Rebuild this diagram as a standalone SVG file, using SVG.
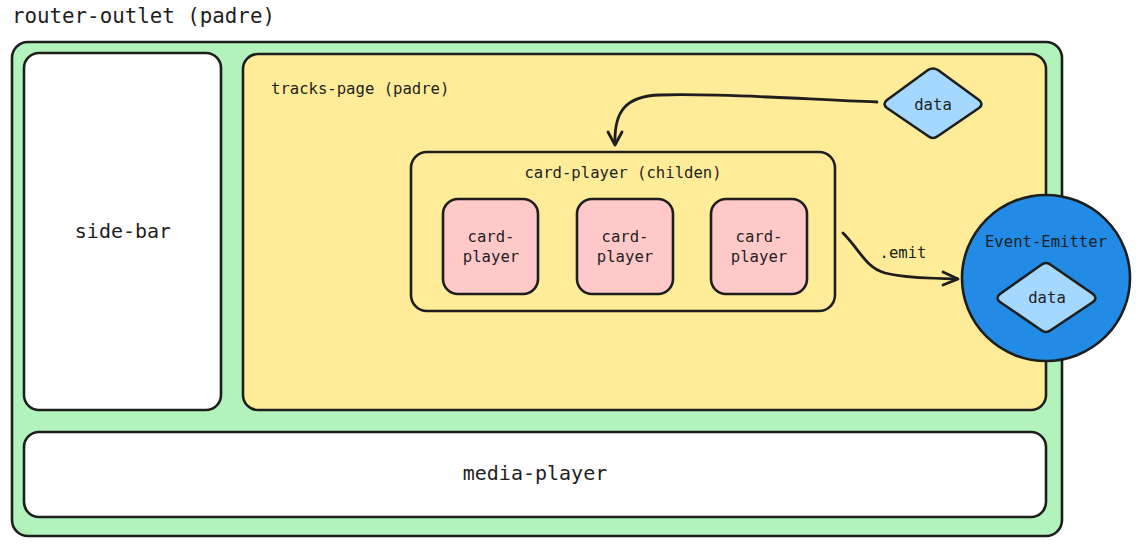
<svg xmlns="http://www.w3.org/2000/svg" width="1141" height="551" viewBox="0 0 1141 551">
  <style>
    .box { stroke: #1e1e1e; stroke-width: 2.6; stroke-linejoin: round; }
    .t { font-family: "DejaVu Sans Mono", "Liberation Mono", monospace; fill: #1e1e1e; text-anchor: middle; }
    .s16 { font-size: 15.6px; }
    .s20 { font-size: 20px; }
    .conn { fill: none; stroke: #1e1e1e; stroke-width: 2.8; stroke-linecap: round; stroke-linejoin: round; }
  </style>
  <rect width="1141" height="551" fill="#ffffff"/>

  <text class="t" x="12" y="23" style="font-size:20.8px;text-anchor:start">router-outlet (padre)</text>

  <g id="router-outlet">
    <rect class="box" x="12" y="42" width="1050" height="494" rx="16" fill="#b2f2bb"/>
  </g>

  <g id="side-bar">
    <rect class="box" x="24" y="53" width="197" height="357" rx="15" fill="#ffffff"/>
    <text class="t s20" x="123" y="238">side-bar</text>
  </g>

  <g id="tracks-page">
    <rect class="box" x="243" y="54" width="803" height="356" rx="15" fill="#ffec99"/>
    <text class="t s16" x="271" y="94" style="text-anchor:start">tracks-page (padre)</text>
  </g>

  <g id="media-player">
    <rect class="box" x="24" y="432" width="1022" height="85" rx="15" fill="#ffffff"/>
    <text class="t s20" x="535" y="480">media-player</text>
  </g>

  <g id="card-container">
    <rect class="box" x="411" y="152" width="424" height="159" rx="16" fill="#ffec99"/>
    <text class="t s16" x="623" y="178">card-player (childen)</text>
  </g>

  <g id="card-1">
    <rect class="box" x="443" y="199" width="95" height="95" rx="15" fill="#ffc9c9"/>
    <text class="t s16" x="491" y="242">card-</text>
    <text class="t s16" x="491" y="262">player</text>
  </g>
  <g id="card-2">
    <rect class="box" x="577" y="199" width="96" height="95" rx="15" fill="#ffc9c9"/>
    <text class="t s16" x="625" y="242">card-</text>
    <text class="t s16" x="625" y="262">player</text>
  </g>
  <g id="card-3">
    <rect class="box" x="711" y="199" width="96" height="95" rx="15" fill="#ffc9c9"/>
    <text class="t s16" x="759" y="242">card-</text>
    <text class="t s16" x="759" y="262">player</text>
  </g>

  <g id="data-top">
    <path class="box" d="M928,70 Q933,67 938,70 L979,100 Q984,104 979,108 L938,136 Q933,140 928,136 L887,108 Q882,104 887,100 Z" fill="#a5d8ff"/>
    <text class="t s16" x="933" y="110">data</text>
  </g>

  <g id="connectors">
    <path class="conn" d="M877,102 C800,99 720,93 660,95 C625,96 614,112 615,144"/>
    <path class="conn" d="M608,132 L615,145 L622,132"/>
    <path class="conn" d="M843,233 C860,250 866,268 885,273 C905,278 930,278 957,279"/>
    <path class="conn" d="M943,272 L958,279 L943,285"/>
    <text class="t s16" x="903" y="258">.emit</text>
  </g>

  <g id="event-emitter">
    <ellipse class="box" cx="1046" cy="278" rx="84" ry="83" fill="#228be6"/>
    <text class="t s16" x="1046" y="247">Event-Emitter</text>
    <path class="box" d="M1041,265 Q1046,261 1051,265 L1093,294 Q1098,298 1093,302 L1051,330 Q1046,334 1041,330 L1000,302 Q995,298 1000,294 Z" fill="#a5d8ff"/>
    <text class="t s16" x="1047" y="303">data</text>
  </g>
</svg>
